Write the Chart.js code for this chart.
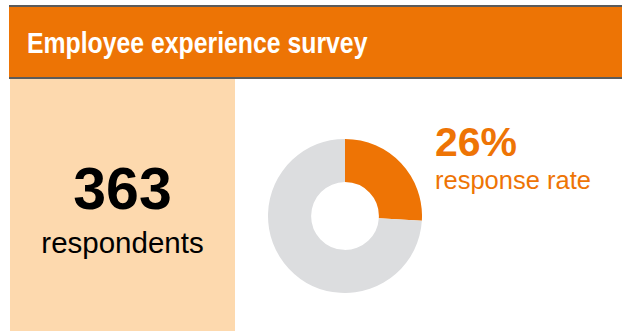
<!DOCTYPE html>
<html>
<head>
<meta charset="utf-8">
<script src="https://cdn.jsdelivr.net/npm/chart.js@4/dist/chart.umd.min.js"></script>
<style>
  html, body { margin: 0; padding: 0; background: #ffffff; }
  body { width: 622px; height: 331px; position: relative; overflow: hidden;
         font-family: "Liberation Sans", Arial, Helvetica, sans-serif; }
  .abs { position: absolute; }
  .rule { left: 9px; width: 613px; height: 2px; background: #5b5b5b; }
  #header { left: 9px; top: 7px; width: 613px; height: 70px; background: #ED7405; }
  #title { left: 27px; top: 28.5px; font-size: 29px; line-height: 29px; font-weight: bold;
           color: #ffffff; white-space: nowrap; transform: scaleX(0.855); transform-origin: 0 0; }
  #side { left: 10px; top: 79px; width: 225px; height: 252px; background: #FDD9AE; }
  #count { left: 10px; width: 225px; top: 160.1px; text-align: center; font-size: 59px;
           line-height: 59px; font-weight: bold; color: #000000; }
  #countLabel { left: 10px; width: 225px; top: 228px; text-align: center; font-size: 29.5px;
                line-height: 29.5px; color: #000000; }
  #rate { left: 435px; top: 122px; font-size: 41px; line-height: 41px; font-weight: bold;
          color: #EE7405; white-space: nowrap; }
  #rateLabel { left: 435px; top: 168.4px; font-size: 25.5px; line-height: 25.5px;
               color: #EE7405; white-space: nowrap; }
  #donutBox { left: 268px; top: 139px; width: 154px; height: 154px; }
</style>
</head>
<body>
<div class="abs rule" style="top:5px"></div>
<div class="abs" id="header"></div>
<div class="abs rule" style="top:77px"></div>
<div class="abs" id="title"></div>
<div class="abs" id="side"></div>
<div class="abs" id="count"></div>
<div class="abs" id="countLabel"></div>
<div class="abs" id="rate"></div>
<div class="abs" id="rateLabel"></div>
<div class="abs" id="donutBox"><canvas id="donut" width="154" height="154"></canvas></div>
<script>
// Survey figures
const titleText = 'Employee experience survey';
const respondents = 363;
const respondentsLabel = 'respondents';
const categories = ['Responded', 'Did not respond'];
const shares = [26, 74];          // percent of employees
const rateLabel = 'response rate';
const sliceColors = ['#EE7405', '#DCDDDF'];

document.getElementById('title').textContent = titleText;
document.getElementById('count').textContent = String(respondents);
document.getElementById('countLabel').textContent = respondentsLabel;
document.getElementById('rate').textContent = shares[0] + '%';
document.getElementById('rateLabel').textContent = rateLabel;

new Chart(document.getElementById('donut'), {
  type: 'doughnut',
  data: {
    labels: categories,
    datasets: [{
      data: shares,
      backgroundColor: sliceColors,
      borderWidth: 0,
      hoverOffset: 0
    }]
  },
  options: {
    responsive: false,
    animation: false,
    cutout: '44%',
    rotation: 0,
    layout: { padding: 0 },
    plugins: {
      legend: { display: false },
      tooltip: { enabled: false }
    }
  }
});
</script>
</body>
</html>
